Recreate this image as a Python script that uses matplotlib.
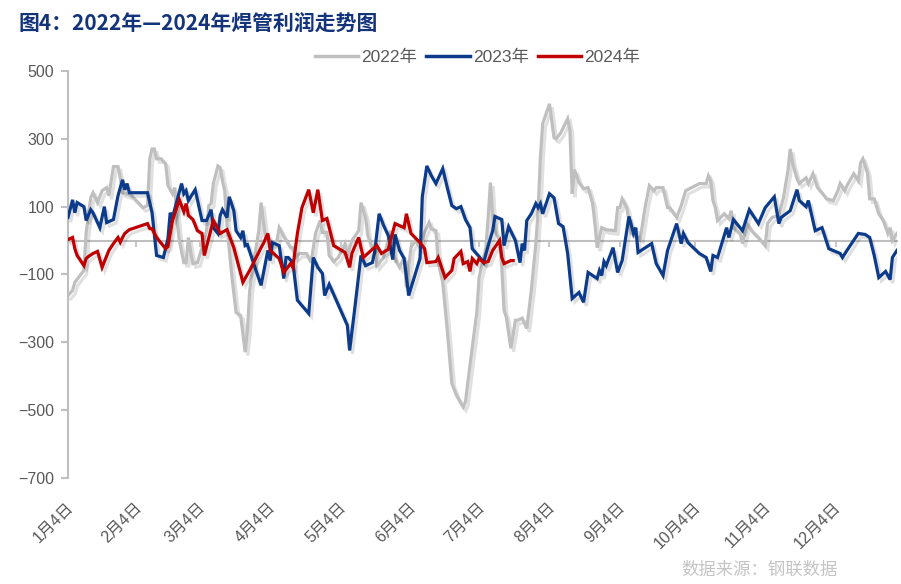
import matplotlib
matplotlib.use("Agg")
from matplotlib import pyplot as plt
from matplotlib import patheffects as pe
from matplotlib import transforms as mtrans
from matplotlib.lines import Line2D

plt.rcParams['font.family'] = ['Liberation Sans', 'Noto Sans CJK SC', 'DejaVu Sans']

# x = days counted from 1月4日, y = 焊管利润 (元/吨)
days_2022 = [
  0, 2, 3, 7, 8, 10, 11, 13, 15, 17,
  18, 20, 22, 23, 24, 28, 33, 35, 36, 37,
  38, 39, 41, 43, 44, 46, 47, 48, 49, 51,
  52, 53, 54, 55, 57, 59, 61, 62, 63, 64,
  66, 67, 68, 69, 70, 72, 74, 76, 78, 79,
  80, 81, 84, 85, 87, 88, 90, 92, 93, 95,
  98, 99, 100, 102, 105, 107, 109, 111, 112, 114,
  115, 117, 119, 122, 123, 125, 128, 129, 131, 132,
  134, 135, 136, 139, 142, 143, 145, 146, 148, 149,
  151, 153, 155, 157, 159, 160, 162, 163, 165, 167,
  169, 171, 174, 175, 176, 178, 180, 181, 184, 185,
  186, 187, 188, 190, 191, 192, 193, 195, 197, 198,
  200, 202, 204, 206, 207, 208, 209, 212, 214, 215,
  217, 220, 221, 222, 223, 225, 227, 229, 231, 232,
  233, 235, 237, 241, 242, 243, 244, 246, 248, 252,
  254, 256, 258, 259, 262, 264, 265, 268, 270, 272,
  278, 281, 282, 283, 284, 285, 286, 289, 291, 292,
  293, 296, 297, 299, 301, 304, 307, 308, 310, 313,
  315, 317, 318, 319, 321, 322, 325, 326, 328, 330,
  332, 334, 337, 339, 340, 342, 343, 346, 348, 349,
  350, 352, 353, 355, 357, 359, 361, 362, 363, 365,
]
profit_2022 = [
  -162, -147, -123, -88, 24, 126, 141, 112, 147, 156,
  132, 218, 218, 185, 141, 132, 97, 103, 241, 270,
  270, 241, 241, 226, 162, 138, 156, 59, 0, -65,
  -65, 9, -35, -68, -65, -21, 29, 103, 109, 168,
  220, 215, 176, 147, 44, -97, -212, -221, -329, -265,
  -147, -97, 29, 112, 6, 9, -9, 0, 38, 12,
  -21, -21, -50, -38, -38, -65, 21, 59, 24, 24,
  -44, -62, -50, -9, -44, 0, 29, 112, 68, 15,
  -24, -15, -74, -50, 29, -38, -68, -79, -50, -138,
  -21, 0, -21, 24, 53, 35, 29, -65, -123, -265,
  -421, -456, -491, -476, -421, -315, -212, -109, -21, 68,
  171, 68, 29, 0, -79, -206, -226, -318, -235, -235,
  -229, -259, -147, -9, 88, 244, 344, 403, 303, 300,
  318, 359, 324, 138, 209, 171, 153, 156, 109, 50,
  -21, 38, 32, 29, 97, 97, 123, 97, 21, 6,
  94, 162, 147, 156, 156, 97, 97, 68, 103, 147,
  168, 168, 191, 176, 118, 97, 59, 79, 65, 88,
  38, 21, -9, 50, 29, 9, -15, 50, 68, 74,
  126, 206, 270, 229, 182, 168, 185, 168, 197, 156,
  141, 123, 118, 147, 168, 147, 162, 197, 176, 229,
  241, 200, 123, 123, 79, 59, 21, 38, 0, 21,
]

days_2023 = [
  0, 2, 3, 4, 7, 8, 10, 11, 14, 16,
  17, 20, 22, 24, 25, 26, 27, 35, 37, 39,
  42, 44, 45, 46, 50, 51, 52, 53, 56, 57,
  59, 61, 63, 64, 66, 67, 68, 70, 71, 73,
  74, 76, 77, 78, 79, 81, 85, 88, 89, 90,
  93, 95, 96, 97, 99, 101, 106, 108, 110, 112,
  113, 115, 123, 124, 126, 129, 131, 134, 135, 137,
  139, 141, 143, 144, 146, 148, 150, 155, 156, 158,
  160, 162, 165, 167, 169, 171, 173, 175, 177, 178,
  181, 183, 185, 187, 188, 191, 192, 194, 197, 199,
  200, 201, 202, 204, 206, 207, 208, 209, 212, 214,
  216, 218, 220, 222, 225, 227, 229, 231, 233, 234,
  235, 236, 237, 240, 242, 244, 247, 249, 250, 251,
  257, 259, 262, 264, 268, 270, 271, 273, 278, 281,
  283, 284, 286, 290, 291, 293, 297, 300, 304, 307,
  311, 313, 314, 318, 321, 322, 325, 326, 329, 332,
  335, 340, 341, 343, 348, 351, 353, 355, 357, 360,
  362, 363, 365,
]
profit_2023 = [
  68, 120, 82, 112, 100, 59, 91, 82, 38, 100,
  53, 62, 132, 179, 150, 168, 141, 141, 82, -44,
  -50, 6, 82, 68, 168, 138, 147, 118, 150, 120,
  59, 59, 91, 38, 21, 74, 91, 68, 129, 88,
  29, 9, 29, -15, -12, -53, -132, -29, -59, -6,
  -15, -112, -50, -50, -65, -176, -215, -50, -79, -97,
  -162, -129, -250, -324, -215, -44, -74, -65, -35, 79,
  44, 15, -56, 18, -29, -53, -162, -53, 129, 220,
  191, 168, 212, 156, 103, 94, 100, 62, 38, -24,
  -47, -65, -15, 29, 71, 62, -15, 41, 0, -65,
  -9, -29, 59, 79, 109, 97, 109, 79, 138, 126,
  50, 41, -38, -171, -153, -182, -94, -103, -112, -88,
  -103, -62, -74, -21, -94, -59, 71, 21, 38, -35,
  -9, -68, -103, -29, 50, -9, 21, -6, -38, -50,
  -91, -44, -50, 38, 9, 62, 29, 91, 50, 97,
  129, 50, 68, 88, 150, 118, 100, 118, 29, 38,
  -24, -38, -50, -29, 21, 18, 9, -44, -109, -91,
  -115, -50, -29,
]

days_2024 = [
  0, 2, 3, 4, 7, 8, 9, 11, 13, 15,
  18, 20, 22, 23, 24, 25, 27, 35, 36, 37,
  39, 43, 44, 46, 49, 51, 52, 53, 55, 57,
  59, 60, 64, 66, 67, 70, 73, 76, 77, 80,
  85, 86, 88, 89, 93, 95, 98, 99, 101, 103,
  106, 108, 110, 112, 114, 117, 122, 124, 125, 128,
  130, 134, 136, 138, 141, 144, 148, 149, 151, 155,
  157, 158, 162, 163, 166, 169, 170, 173, 174, 176,
  177, 178, 180, 181, 183, 185, 187, 190, 191, 192,
  195, 196,
]
profit_2024 = [
  3, 9, -24, -44, -74, -53, -47, -38, -32, -79,
  -29, -9, 9, -5, 9, 21, 32, 50, 35, 35,
  9, -24, -18, 59, 120, 85, 109, 74, 62, 29,
  21, -44, 59, 35, 21, 32, -21, -97, -123, -88,
  -21, -9, 21, -29, -53, -94, -68, -79, 21, 97,
  150, 82, 150, 59, 65, -15, -35, -79, -38, 9,
  -50, -26, -15, -38, -26, 50, 38, 79, 21, -6,
  -24, -65, -62, -50, -109, -88, -53, -32, -68, -62,
  -91, -53, -68, -53, -65, -62, -29, 0, -50, -68,
  -59, -59,
]

tick_days = [0, 30, 58, 89, 120, 151, 181, 212, 243, 276, 307, 338]
tick_labels = ["1月4日", "2月4日", "3月4日", "4月4日", "5月4日", "6月4日",
               "7月4日", "8月4日", "9月4日", "10月4日", "11月4日", "12月4日"]

series = [
  ("2022年", days_2022, profit_2022, "#BFBFBF"),
  ("2023年", days_2023, profit_2023, "#0B3B8A"),
  ("2024年", days_2024, profit_2024, "#C00000"),
]

text_grey = "#595959"
axis_grey = "#BFBFBF"

fig = plt.figure(figsize = (9.01, 5.84), dpi = 100)
ax = fig.add_axes([0.0755, 0.1815, 0.920, 0.697])

shadow = [pe.SimpleLineShadow(offset = (2, -2.5), shadow_color = "black", alpha = 0.12),
          pe.Normal()]
handles = []
for name, x, y, color in series:
  ax.plot(x, y, color = color, lw = 2.3, path_effects = shadow,
          solid_joinstyle = "miter", zorder = 3)
  handles.append(Line2D([], [], color = color, lw = 2.5, label = name))

ax.set_xlim(0, 365)
ax.set_ylim(-700, 500)
ax.set_yticks(range(-700, 501, 200))

for side in ("top", "right"):
  ax.spines[side].set_visible(False)
ax.spines["left"].set_color(axis_grey)
ax.spines["left"].set_linewidth(1.5)
ax.spines["bottom"].set_position(("data", 0))
ax.spines["bottom"].set_color(axis_grey)
ax.spines["bottom"].set_linewidth(1.5)
ax.spines["bottom"].set_zorder(1)

ax.set_xticks(tick_days)
ax.tick_params(axis = "x", direction = "out", length = 4, width = 1.2,
               color = axis_grey, labelbottom = False)
ax.tick_params(axis = "y", direction = "out", length = 5, width = 1.5,
               color = axis_grey, labelcolor = text_grey, labelsize = 11.5, pad = 5)

# month labels sit under the plot, while the axis line itself runs along zero
trans = mtrans.blended_transform_factory(ax.transData, ax.transAxes)
for d, lab in zip(tick_days, tick_labels):
  ax.text(d - 1, -0.052, lab, transform = trans, rotation = 45, rotation_mode = "anchor",
          ha = "right", va = "top", fontsize = 11.5, color = text_grey)

ax.legend(handles = handles, loc = "center", bbox_to_anchor = (0.53, 0.902),
          bbox_transform = fig.transFigure, ncol = 3, frameon = False, fontsize = 12.5,
          handlelength = 2.5, handletextpad = 0.2, columnspacing = 0.5,
          labelcolor = text_grey)

fig.text(0.02, 0.96, "图4：2022年—2024年焊管利润走势图", fontsize = 15, fontweight = "bold",
         color = "#13337A", ha = "left", va = "center",
         family = ["Noto Sans CJK SC", "DejaVu Sans"])
fig.text(0.93, 0.024, "数据来源：钢联数据", fontsize = 12.5, color = "#C4C4C4",
         ha = "right", va = "center", family = ["Noto Sans CJK SC", "DejaVu Sans"])

fig.savefig("out.png", dpi = 100)
